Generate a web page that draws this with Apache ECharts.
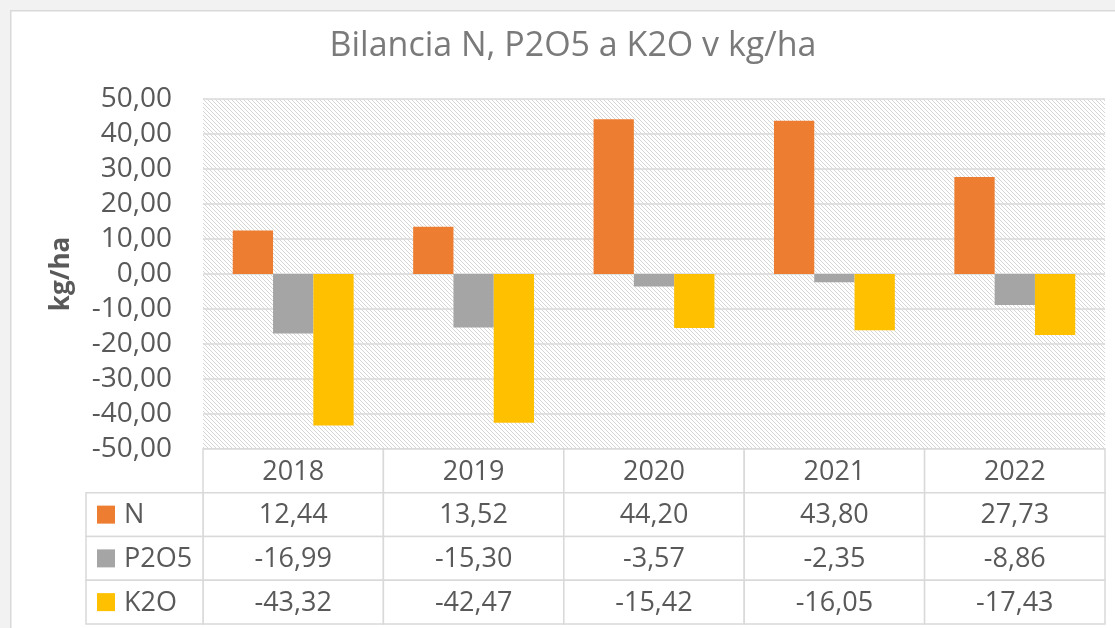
<!DOCTYPE html>
<html>
<head>
<meta charset="utf-8">
<script src="https://cdn.jsdelivr.net/npm/echarts@6/dist/echarts.min.js"></script>
<style>
  html, body { margin: 0; padding: 0; background: #f2f2f2; }
  #chart { width: 1115px; height: 628px; }
</style>
</head>
<body>
<div id="chart"></div>
<script>
// data
const years = ["2018", "2019", "2020", "2021", "2022"];
const seriesNames = ["N", "P2O5", "K2O"];
const seriesColors = ["#ED7D31", "#A5A5A5", "#FFC000"];
const valuesN = [12.44, 13.52, 44.2, 43.8, 27.73];
const valuesP2O5 = [-16.99, -15.3, -3.57, -2.35, -8.86];
const valuesK2O = [-43.32, -42.47, -15.42, -16.05, -17.43];
const yTicks = { min: -50, max: 50, interval: 10 };

const allValues = [valuesN, valuesP2O5, valuesK2O];
const tableRows = ["head", "N", "P2O5", "K2O"];

function fmt(v) {
  return v.toFixed(2).replace(".", ",");
}

// hatched pattern for the plot background
function makeHatch() {
  const c = document.createElement("canvas");
  c.width = 4;
  c.height = 4;
  const ctx = c.getContext("2d");
  ctx.fillStyle = "#ffffff";
  ctx.fillRect(0, 0, 4, 4);
  ctx.fillStyle = "#d6d6d6";
  for (let i = 0; i < 4; i++) {
    ctx.fillRect(i, i, 1, 1);
  }
  return c;
}

let dom = document.getElementById("chart");
let myChart = echarts.init(dom, null, { renderer: "canvas" });

// table cells: [col, row, text]
const cellData = [];
years.forEach((y, i) => {
  cellData.push([i, 0, y]);
  allValues.forEach((arr, s) => {
    cellData.push([i, s + 1, fmt(arr[i])]);
  });
});
const legendData = seriesNames.map((n, s) => [0, s + 1, n, seriesColors[s]]);

const textColor = "#595959";
const lineColor = "#d9d9d9";
const cellFont = "27px 'Open Sans'";

const barSeries = seriesNames.map((name, s) => ({
  name: name,
  type: "bar",
  xAxisIndex: 0,
  yAxisIndex: 0,
  data: allValues[s],
  barGap: "0%",
  barCategoryGap: "33%",
  itemStyle: { color: seriesColors[s] },
}));

const option = {
  animation: false,
  backgroundColor: "#f2f2f2",
  graphic: [
    {
      type: "rect",
      left: 10,
      top: 10,
      shape: { width: 1200, height: 700 },
      style: { fill: "#ffffff", stroke: "#d9d9d9", lineWidth: 1.5 },
      z: -10,
      silent: true,
    },
  ],
  title: {
    text: "Bilancia N, P2O5 a K2O v kg/ha",
    left: 568,
    textAlign: "center",
    top: 24,
    textStyle: {
      color: "#7a7a7a",
      fontFamily: "Open Sans",
      fontWeight: "normal",
      fontSize: 34,
    },
  },
  grid: [
    {
      left: 203, right: 10, top: 99, height: 350,
      show: true,
      borderWidth: 0,
      backgroundColor: { image: makeHatch(), repeat: "repeat" },
    },
    { left: 203, right: 10, top: 449, height: 175 },
    { left: 86, width: 117, top: 449, height: 175 },
  ],
  xAxis: [
    {
      gridIndex: 0, type: "category", data: years,
      axisLine: { show: false }, axisTick: { show: false }, axisLabel: { show: false },
    },
    { gridIndex: 1, type: "category", data: years, show: false },
    { gridIndex: 2, type: "category", data: ["legend"], show: false },
  ],
  yAxis: [
    {
      gridIndex: 0,
      type: "value",
      min: yTicks.min,
      max: yTicks.max,
      interval: yTicks.interval,
      name: "kg/ha",
      nameLocation: "middle",
      nameGap: 128,
      nameRotate: 90,
      nameTextStyle: { color: textColor, fontFamily: "Open Sans", fontWeight: "bold", fontSize: 26 },
      axisLabel: {
        color: textColor, fontFamily: "Open Sans", fontSize: 28, margin: 31,
        formatter: (v) => fmt(v),
      },
      splitLine: { lineStyle: { color: lineColor, width: 1.5 } },
    },
    { gridIndex: 1, type: "category", data: tableRows, inverse: true, show: false },
    { gridIndex: 2, type: "category", data: tableRows, inverse: true, show: false },
  ],
  series: [
    ...barSeries,
    {
      type: "custom",
      xAxisIndex: 1,
      yAxisIndex: 1,
      data: cellData,
      renderItem: function (params, api) {
        const c = api.coord([api.value(0), api.value(1)]);
        const sz = api.size([1, 1]);
        const text = cellData[params.dataIndex][2];
        return {
          type: "group",
          children: [
            {
              type: "rect",
              shape: { x: c[0] - sz[0] / 2, y: c[1] - sz[1] / 2, width: sz[0], height: sz[1] },
              style: { fill: "#ffffff", stroke: lineColor, lineWidth: 1.5 },
            },
            {
              type: "text",
              x: c[0], y: c[1] + 1,
              style: { text: text, align: "center", verticalAlign: "middle", fill: textColor, font: cellFont },
            },
          ],
        };
      },
    },
    {
      type: "custom",
      xAxisIndex: 2,
      yAxisIndex: 2,
      data: legendData,
      renderItem: function (params, api) {
        const c = api.coord([api.value(0), api.value(1)]);
        const sz = api.size([1, 1]);
        const d = legendData[params.dataIndex];
        const x0 = c[0] - sz[0] / 2;
        return {
          type: "group",
          children: [
            {
              type: "rect",
              shape: { x: x0, y: c[1] - sz[1] / 2, width: sz[0], height: sz[1] },
              style: { fill: "#ffffff", stroke: lineColor, lineWidth: 1.5 },
            },
            {
              type: "rect",
              shape: { x: x0 + 11, y: c[1] - 9, width: 18, height: 18 },
              style: { fill: d[3] },
            },
            {
              type: "text",
              x: x0 + 38, y: c[1] + 1,
              style: { text: d[2], align: "left", verticalAlign: "middle", fill: textColor, font: cellFont },
            },
          ],
        };
      },
    },
  ],
};

myChart.setOption(option);

window.addEventListener("resize", function () {
  if (myChart) {
    myChart.resize();
  }
});
</script>
</body>
</html>
